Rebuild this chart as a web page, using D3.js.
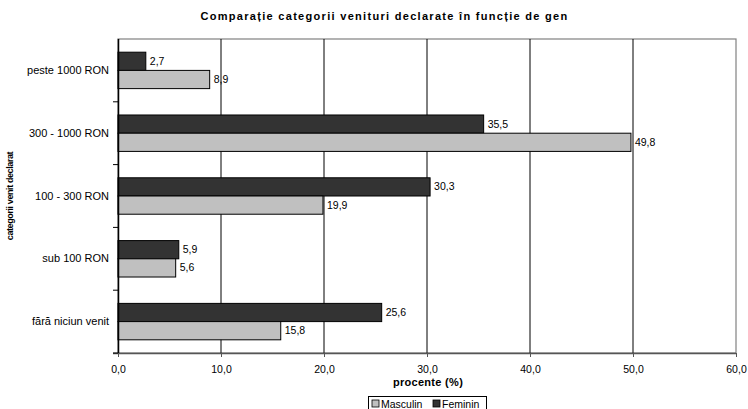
<!DOCTYPE html>
<html><head><meta charset="utf-8">
<script src="https://cdn.jsdelivr.net/npm/d3@7"></script>
<style>body{margin:0;background:#fff}svg{display:block}text{font-family:"Liberation Sans",Arial,sans-serif}</style>
</head><body>
<svg id="c" width="748" height="409"></svg>
<script>
const categories = ["peste 1000 RON","300 - 1000 RON","100 - 300 RON","sub 100 RON","fără niciun venit"];
const feminin = [2.7,35.5,30.3,5.9,25.6];
const masculin = [8.9,49.8,19.9,5.6,15.8];
const xTicks = [0,10,20,30,40,50,60];
const seriesNames = ["Masculin","Feminin"];

const svg = d3.select("#c");
const L=118,R=736,T=39,B=353;
const x = d3.scaleLinear().domain([0,60]).range([L,R]);
const y = d3.scaleBand().domain(categories).range([T,B]).paddingInner(0.42).paddingOuter(0.21);
const sub = d3.scaleBand().domain(["Feminin","Masculin"]).range([0,y.bandwidth()]);
const fmt = v => d3.format(".1f")(v).replace(".",",");

// plot border
svg.append("rect").attr("x",L).attr("y",T).attr("width",R-L).attr("height",B-T).attr("fill","none").attr("stroke","#808080").attr("stroke-width",1.2);
// gridlines
svg.append("g").selectAll("line").data(xTicks.slice(1,-1)).join("line")
 .attr("x1",d=>x(d)).attr("x2",d=>x(d)).attr("y1",T).attr("y2",B).attr("stroke","#000").attr("stroke-width",1);

const data=[];
categories.forEach((c,i)=>{data.push({c,s:"Feminin",v:feminin[i]});data.push({c,s:"Masculin",v:masculin[i]});});
const col={Feminin:"#333333",Masculin:"#c0c0c0"};
svg.append("g").selectAll("rect").data(data).join("rect")
 .attr("x",x(0)).attr("y",d=>y(d.c)+sub(d.s)).attr("width",d=>x(d.v)-x(0)).attr("height",sub.bandwidth())
 .attr("fill",d=>col[d.s]).attr("stroke","#000").attr("stroke-width",1);
svg.append("g").selectAll("text").data(data).join("text")
 .attr("x",d=>x(d.v)+4).attr("y",d=>y(d.c)+sub(d.s)+sub.bandwidth()/2+3.5)
 .attr("font-size",10.5).attr("fill","#000").text(d=>fmt(d.v));

// x axis
const xa = svg.append("g").attr("transform",`translate(0,${B})`)
 .call(d3.axisBottom(x).tickValues(xTicks).tickFormat(fmt).tickSize(4).tickPadding(9));
xa.select(".domain").attr("stroke","#555").attr("stroke-width",1.5).attr("d",`M${L-5},0.5H${R}`);
xa.selectAll(".tick line").attr("stroke","#555");
xa.selectAll("text").attr("font-size",10.5).attr("font-family","Liberation Sans, Arial, sans-serif");

// y axis
const ya = svg.append("g").attr("transform",`translate(${L},0)`)
 .call(d3.axisLeft(y).tickSize(0).tickPadding(9));
ya.select(".domain").attr("stroke","#000").attr("stroke-width",1.5).attr("d",`M0.5,${T}V${B}`);
ya.selectAll("text").attr("font-size",11).attr("font-family","Liberation Sans, Arial, sans-serif");
// category separators ticks
const seps = categories.map(c=>y(c)-y.step()*y.paddingInner()/2).slice(1).concat([B]);
svg.append("g").selectAll("line").data(seps).join("line")
 .attr("x1",L-5).attr("x2",L).attr("y1",d=>d).attr("y2",d=>d).attr("stroke","#000");

// titles
svg.append("text").attr("x",384.5).attr("y",20).attr("text-anchor","middle").attr("font-size",11).attr("font-weight","bold").attr("letter-spacing",1.3)
 .text("Comparație categorii venituri declarate în funcție de gen");
svg.append("text").attr("x",428).attr("y",386).attr("text-anchor","middle").attr("font-size",11).attr("font-weight","bold").attr("letter-spacing",0.3).text("procente (%)");
svg.append("text").attr("transform","translate(13,196) rotate(-90)").attr("text-anchor","middle").attr("font-size",9).attr("font-weight","bold").attr("letter-spacing",-0.4).text("categorii venit declarat");

// legend
const lg = svg.append("g").attr("transform","translate(368,396)");
lg.append("rect").attr("x",0.5).attr("y",0.5).attr("width",118).attr("height",15).attr("fill","#fff").attr("stroke","#000");
const items=[{s:"Masculin",x:4},{s:"Feminin",x:65}];
items.forEach(it=>{
 lg.append("rect").attr("x",it.x).attr("y",4).attr("width",7).attr("height",7).attr("fill",col[it.s]).attr("stroke","#000").attr("stroke-width",0.8);
 lg.append("text").attr("x",it.x+9).attr("y",12).attr("font-size",10.5).text(it.s);
});
</script>
</body></html>
